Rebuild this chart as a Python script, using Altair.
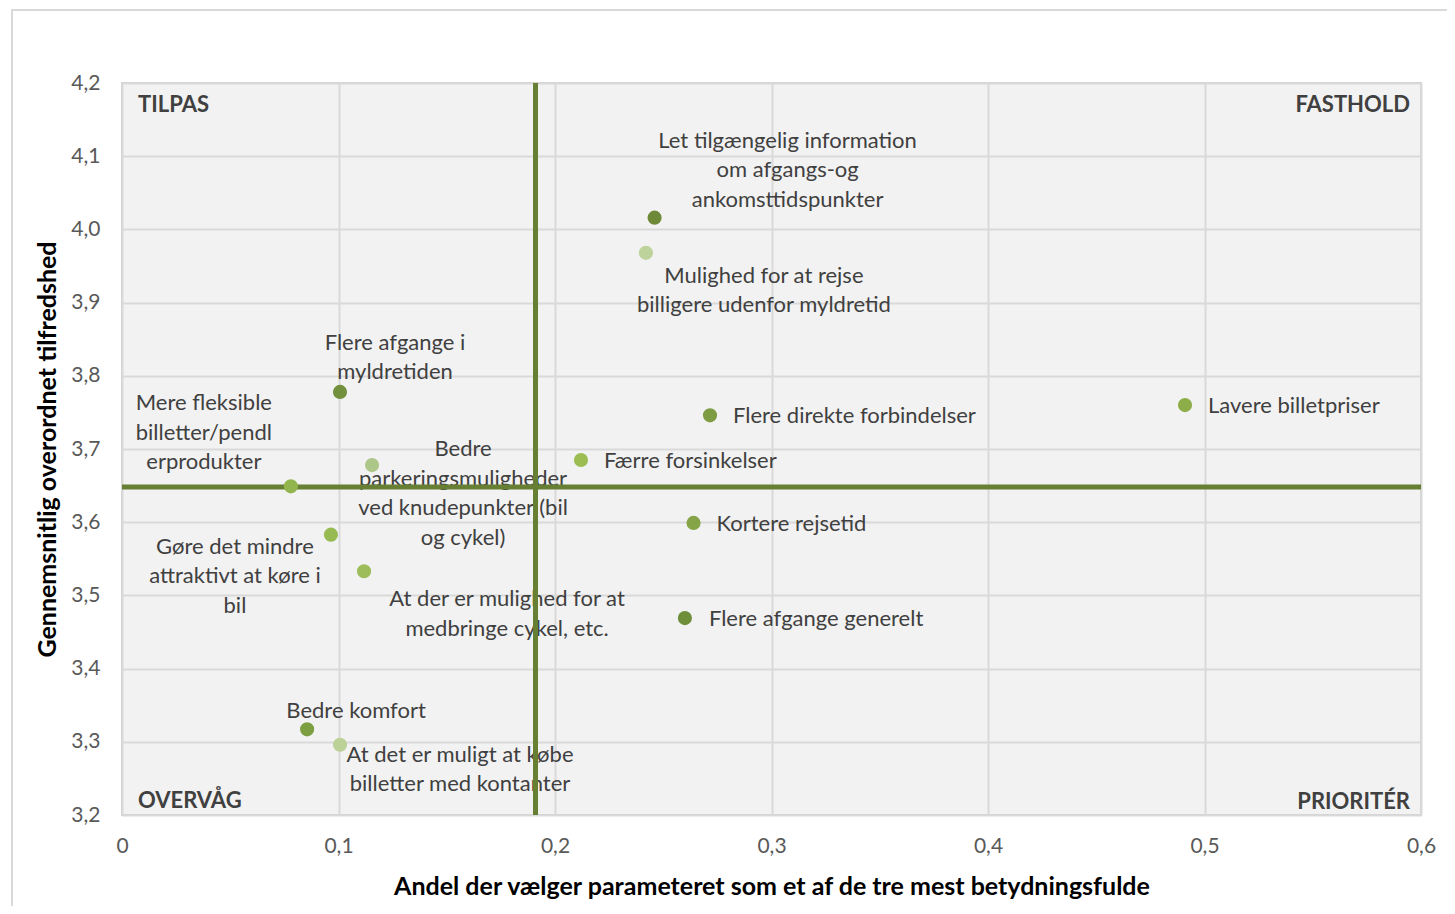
import altair as alt
import pandas as pd

# ---- data ----
labels = [
    "Let tilgængelig information\nom afgangs-og\nankomsttidspunkter",
    "Mulighed for at rejse\nbilligere udenfor myldretid",
    "Flere afgange i\nmyldretiden",
    "Flere direkte forbindelser",
    "Lavere billetpriser",
    "Bedre\nparkeringsmuligheder\nved knudepunkter (bil\nog cykel)",
    "Færre forsinkelser",
    "Mere fleksible\nbilletter/pendl\nerprodukter",
    "Kortere rejsetid",
    "Gøre det mindre\nattraktivt at køre i\nbil",
    "At der er mulighed for at\nmedbringe cykel, etc.",
    "Flere afgange generelt",
    "Bedre komfort",
    "At det er muligt at købe\nbilletter med kontanter",
]
share = [0.246, 0.242, 0.1007, 0.2716, 0.491, 0.1155, 0.212, 0.078, 0.264, 0.0965, 0.1118, 0.260, 0.0855, 0.1007]
satisfaction = [4.016, 3.968, 3.778, 3.746, 3.760, 3.678, 3.685, 3.649, 3.599, 3.583, 3.533, 3.469, 3.317, 3.296]
colors = ["#6e8a39", "#bdd39b", "#72903e", "#7d9c44", "#8cad48", "#adc789", "#9bbd52", "#93b54e",
          "#84a447", "#97ba52", "#9cbd5a", "#6f8e3a", "#7e9e42", "#bcd198"]
mean_share = 0.191
mean_satisfaction = 3.648
quadrants = ["TILPAS", "FASTHOLD", "OVERVÅG", "PRIORITÉR"]
quad_x = [0.0, 0.6, 0.0, 0.6]
quad_y = [4.2, 4.2, 3.2, 3.2]

# ---- label placement (pixel offsets of first line, align) ----
label_style = [
    (133, -77, "center"), (118, 23, "center"), (55, -49, "center"), (23, 1, "left"),
    (23, 1, "left"), (91, -16, "center"), (23, 1, "left"), (-87, -83, "center"),
    (23, 1, "left"), (-96, 12, "center"), (143, 28, "center"), (24, 1, "left"),
    (49, -18, "center"), (120, 10, "center"),
]
quad_style = [(16, 22, "left"), (-11, 22, "right"), (16, -14, "left"), (-11, -13, "right")]

FONT = "Lato"
df = pd.DataFrame({"label": labels, "x": share, "y": satisfaction, "color": colors})

xscale = alt.Scale(domain=[0, 0.6], nice=False)
yscale = alt.Scale(domain=[3.2, 4.2], nice=False, zero=False)

x_axis = alt.Axis(
    title="Andel der vælger parameteret som et af de tre mest betydningsfulde",
    values=[0, 0.1, 0.2, 0.3, 0.4, 0.5, 0.6],
    labelExpr="datum.value == 0 ? '0' : replace(format(datum.value, '.1f'), '.', ',')",
    labelPadding=20, titlePadding=18, ticks=False, domain=False, labelFlush=False,
    grid=True, gridColor="#d9d9d9", gridWidth=2,
    labelFontSize=21, labelColor="#595959", labelFont=FONT,
    titleFontSize=25, titleFontWeight="bold", titleColor="#000000", titleFont=FONT,
)
y_axis = alt.Axis(
    title="Gennemsnitlig overordnet tilfredshed",
    values=[3.2, 3.3, 3.4, 3.5, 3.6, 3.7, 3.8, 3.9, 4.0, 4.1, 4.2],
    labelExpr="replace(format(datum.value, '.1f'), '.', ',')",
    labelPadding=22, titlePadding=10, ticks=False, domain=False, labelFlush=False,
    grid=True, gridColor="#d9d9d9", gridWidth=2,
    labelFontSize=21, labelColor="#595959", labelFont=FONT,
    titleFontSize=25, titleFontWeight="bold", titleColor="#000000", titleFont=FONT,
)

base = alt.Chart(df)

frame = alt.Chart(pd.DataFrame({"a": [0]})).mark_rect(
    fill=None, stroke="#d9d9d9", strokeWidth=2, clip=False
).encode(x=alt.value(-110), x2=alt.value(1345), y=alt.value(-73), y2=alt.value(845))

axes_layer = base.mark_point(opacity=0).encode(
    x=alt.X("x:Q", scale=xscale, axis=x_axis),
    y=alt.Y("y:Q", scale=yscale, axis=y_axis),
)

text_layers = []
for lab, (dx, dy, al) in zip(labels, label_style):
    text_layers.append(
        alt.Chart(df[df["label"] == lab]).mark_text(
            dx=dx, dy=dy, align=al, baseline="middle", lineBreak="\n", lineHeight=29.5,
            fontSize=22, font=FONT, color="#404040"
        ).encode(x=alt.X("x:Q", scale=xscale), y=alt.Y("y:Q", scale=yscale), text="label:N")
    )

qdf = pd.DataFrame({"q": quadrants, "x": quad_x, "y": quad_y})
quad_layers = []
for i, (dx, dy, al) in enumerate(quad_style):
    quad_layers.append(
        alt.Chart(qdf.iloc[[i]]).mark_text(
            dx=dx, dy=dy, align=al, baseline="middle", fontSize=22, fontWeight="bold",
            font=FONT, color="#404040"
        ).encode(x=alt.X("x:Q", scale=xscale), y=alt.Y("y:Q", scale=yscale), text="q:N")
    )

vline = alt.Chart(pd.DataFrame({"m": [mean_share]})).mark_rule(
    color="#667f32", strokeWidth=5
).encode(x=alt.X("m:Q", scale=xscale))
hline = alt.Chart(pd.DataFrame({"m": [mean_satisfaction]})).mark_rule(
    color="#667f32", strokeWidth=5
).encode(y=alt.Y("m:Q", scale=yscale))

points = base.mark_circle(size=200, opacity=1).encode(
    x=alt.X("x:Q", scale=xscale),
    y=alt.Y("y:Q", scale=yscale),
    color=alt.Color("color:N", scale=None),
)

chart = alt.layer(
    frame, axes_layer, *text_layers, *quad_layers, vline, hline, points
).properties(
    width=1299, height=732,
    padding={"left": 114, "top": 75, "right": 26, "bottom": 91},
    autosize=alt.AutoSizeParams(type="none"),
    background="white",
).configure_view(
    fill="#f2f2f2", stroke="#d0d0d0", strokeWidth=2
)

chart.save("out.html", embed_options={"renderer": "svg", "actions": False})
